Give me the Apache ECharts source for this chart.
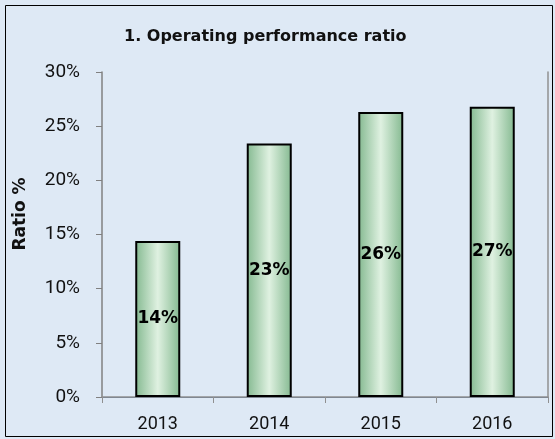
<!doctype html>
<html>
<head>
<meta charset="UTF-8">
<title>Operating performance ratio</title>
<script src="https://cdn.jsdelivr.net/npm/echarts@6/dist/echarts.min.js"></script>
<style>
    html, body { margin: 0; padding: 0; }
    body { background-color: #ffffff; }
    #chart { width: 555px; height: 439px; }
</style>
</head>
<body>
<div id="chart"></div>
<script>
    // data
    const years = ['2013', '2014', '2015', '2016'];
    const ratios = [0.144, 0.234, 0.263, 0.268];

    const chart = echarts.init(document.getElementById('chart'));

    const barFill = new echarts.graphic.LinearGradient(0, 0, 1, 0, [
        { offset: 0, color: '#84b990' },
        { offset: 0.5, color: '#dff1e1' },
        { offset: 1, color: '#84b990' }
    ]);

    chart.setOption({
        backgroundColor: '#dee9f5',
        title: {
            text: '1. Operating performance ratio',
            left: 119, top: 24,
            textStyle: { fontFamily: 'DejaVu Sans', fontWeight: 'bold', fontSize: 16, color: '#111' }
        },
        graphic: [{
            type: 'rect',
            shape: { x: 5.5, y: 5.5, width: 547, height: 431 },
            style: { fill: 'none', stroke: '#000', lineWidth: 1 },
            silent: true
        }, {
            // y axis name
            type: 'text',
            x: 21, y: 214,
            rotation: Math.PI / 2,
            style: {
                text: 'Ratio %',
                fontFamily: 'DejaVu Sans', fontWeight: 'bold', fontSize: 17, fill: '#111',
                align: 'center', verticalAlign: 'middle'
            },
            silent: true
        }],
        grid: { left: 102, right: 7, top: 72, bottom: 42 },
        xAxis: [{
            type: 'category',
            data: years,
            axisLine: { lineStyle: { color: '#4f6f96', width: 1 } },
            axisTick: { show: true, length: 6, lineStyle: { color: '#808080' } },
            axisLabel: { fontFamily: 'Roboto', fontSize: 18, color: '#111', margin: 18 }
        }, {
            type: 'category',
            data: years,
            position: 'top',
            axisLine: { lineStyle: { color: '#909090', width: 1.5 } },
            axisTick: { show: true, inside: true, length: 6, lineStyle: { color: '#909090' } },
            axisLabel: { show: false }
        }],
        yAxis: [{
            type: 'value',
            min: 0, max: 0.3, interval: 0.05,
            axisLine: { show: true, lineStyle: { color: '#808080', width: 1.5 } },
            axisTick: { show: true, length: 6, lineStyle: { color: '#808080' } },
            splitLine: { show: false },
            axisLabel: {
                fontFamily: 'Roboto', fontSize: 19, color: '#111', margin: 22,
                formatter: v => Math.round(v * 100) + '%'
            }
        }, {
            type: 'value',
            min: 0, max: 0.3, interval: 0.05,
            position: 'right',
            axisLine: { show: true, lineStyle: { color: '#909090', width: 1.5 } },
            axisTick: { show: false },
            splitLine: { show: false },
            axisLabel: { show: false }
        }],
        series: [{
            type: 'bar',
            data: ratios,
            barWidth: 45,
            itemStyle: { color: barFill, borderColor: '#000', borderWidth: 2 },
            label: {
                show: true,
                position: 'inside',
                fontFamily: 'DejaVu Sans', fontWeight: 'bold', fontSize: 17, color: '#000',
                formatter: p => Math.round(p.value * 100) + '%'
            }
        }]
    });
</script>
</body>
</html>
